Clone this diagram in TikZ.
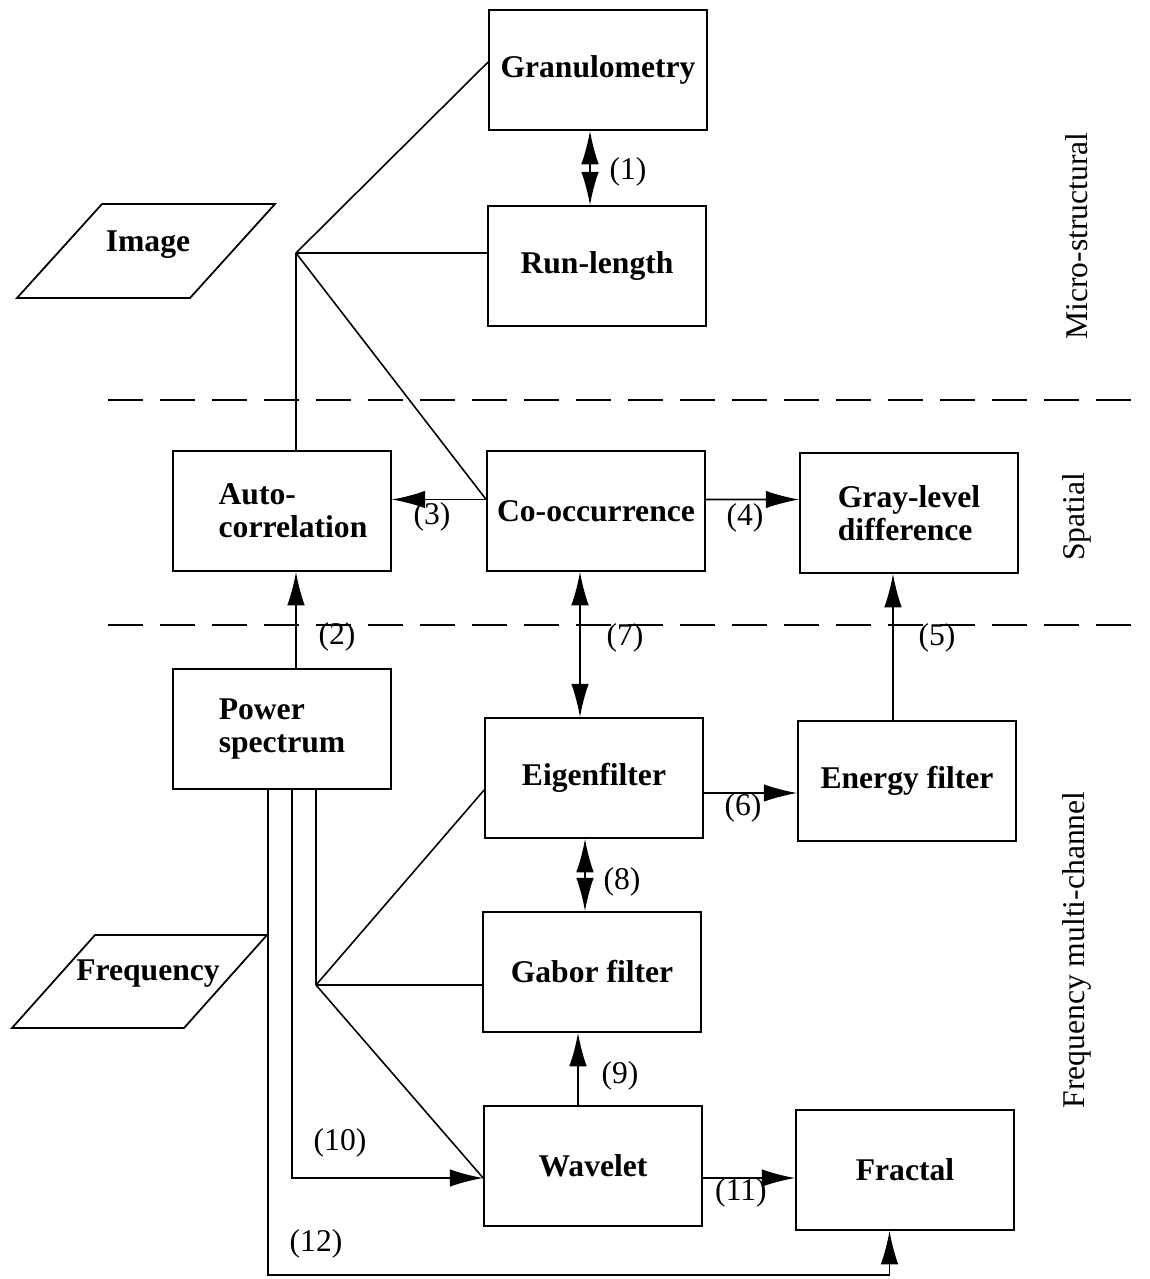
\documentclass[tikz,border=0pt]{standalone}
\usepackage{fontspec}
\setmainfont{Liberation Serif}
\usetikzlibrary{arrows.meta}

\begin{document}
\begin{tikzpicture}[
  x=0.02cm, y=-0.02cm,
  >={Latex[length=19pt,width=10pt]},
  line width=0.9pt,
  box/.style={
    draw,
    line width=1pt,
    align=left,
    minimum width=4.36cm,
    minimum height=2.4cm,
    inner sep=2pt,
    font=\fontsize{18}{19}\selectfont\bfseries
  },
  ptext/.style={inner sep=2pt, font=\fontsize{18}{19}\selectfont\bfseries},
  lab/.style={font=\fontsize{18}{20}\selectfont, inner sep=0pt},
  side/.style={lab, rotate=90},
  sep/.style={dash pattern=on 0.7cm off 0.34cm}
]
\useasboundingbox (0,0) rectangle (1150,1279);

% boxes
\node[box]  (gran)    at (598,70)    {Granulometry};
\node[box]  (run)     at (597,266)   {Run-length};
\node[box]  (auto)    at (282,511)   {\hspace*{0.44cm}Auto-\\\hspace*{0.44cm}correlation};
\node[box]  (cooc)    at (596,511)   {Co-occurrence};
\node[box]  (gray)    at (909,513)   {Gray-level\\difference};
\node[box]  (power)   at (282,729)   {Power\\spectrum};
\node[box]  (eigen)   at (594,778)   {Eigenfilter};
\node[box]  (energy)  at (907,781)   {Energy filter};
\node[box]  (gabor)   at (592,972)   {Gabor filter};
\node[box]  (wavelet) at (593,1166)  {Wavelet};
\node[box]  (fractal) at (905,1170)  {Fractal};

% input data (parallelograms)
\node[ptext] (image) at (148,245) {Image};
\draw[line width=1pt] ([shift={(-131,53)}]image.center) -- ++(85,-94) -- ++(173,0) -- ++(-85,94) -- cycle;
\node[ptext] (freq)  at (148,974) {Frequency};
\draw[line width=1pt] ([shift={(-136,54)}]freq.center) -- ++(83,-93) -- ++(172,0) -- ++(-83,93) -- cycle;

% side labels and class borders
\node[side] (micro) at (1077,236) {Micro-structural};
\node[side] (spat)  at (1077,517) {Spatial};
\node[side] (fmc)   at (1077,950) {Frequency multi-channel};
\draw[sep] (108,400) -- (1142,400);
\draw[sep] (108,625) -- (1142,625);

% branch points
\coordinate (j1) at (296,253);
\coordinate (j2) at (316,985);

\draw (j1) -- ([yshift=0.16cm]gran.west);
\draw (j1) -- (j1 -| run.west);
\draw (j1) -- (j1 |- auto.north);
\draw (j1) -- ([yshift=0.23cm]cooc.west);
\draw (j2) -- (j2 |- power.south);
\draw (j2) -- ([yshift=-0.24cm]eigen.west);
\draw (j2) -- (j2 -| gabor.west);
\draw (j2) -- ([yshift=-0.24cm]wavelet.west);

% relations
\draw[<->] ([xshift=-0.16cm]gran.south) -- ([xshift=-0.14cm]run.north);
\draw[->] ([xshift=0.28cm]power.north) -- ([xshift=0.28cm]auto.south);
\draw[->] ([yshift=0.23cm]cooc.west) -- ([yshift=0.23cm]auto.east);
\draw[->] ([yshift=0.23cm]cooc.east) -- ([yshift=0.27cm]gray.west);
\draw[->] ([xshift=-0.28cm]energy.north) -- ([xshift=-0.32cm]gray.south);
\draw[->] ([yshift=-0.3cm]eigen.east) -- ([yshift=-0.24cm]energy.west);
\draw[<->] ([xshift=-0.32cm]cooc.south) -- ([xshift=-0.28cm]eigen.north);
\draw[<->] ([xshift=-0.18cm]eigen.south) -- ([xshift=-0.14cm]gabor.north);
\draw[->] ([xshift=-0.3cm]wavelet.north) -- ([xshift=-0.28cm]gabor.south);
\draw[->] ([xshift=0.2cm]power.south) |- ([yshift=-0.24cm]wavelet.west);
\draw[->] ([yshift=-0.24cm]wavelet.east) -- ([yshift=-0.16cm]fractal.west);
\draw[->] ([xshift=-0.28cm]power.south) -- ++(0,485) -| ([xshift=-0.31cm]fractal.south);

% numbers
\node[lab] (l1)  at (628,172)  {(1)};
\node[lab] (l2)  at (337,637)  {(2)};
\node[lab] (l3)  at (432,517)  {(3)};
\node[lab] (l4)  at (745,518)  {(4)};
\node[lab] (l5)  at (937,638)  {(5)};
\node[lab] (l6)  at (743,808)  {(6)};
\node[lab] (l7)  at (625,638)  {(7)};
\node[lab] (l8)  at (622,882)  {(8)};
\node[lab] (l9)  at (620,1076) {(9)};
\node[lab] (l10) at (340,1143) {(10)};
\node[lab] (l11) at (741,1193) {(11)};
\node[lab] (l12) at (316,1244) {(12)};
\end{tikzpicture}
\end{document}
